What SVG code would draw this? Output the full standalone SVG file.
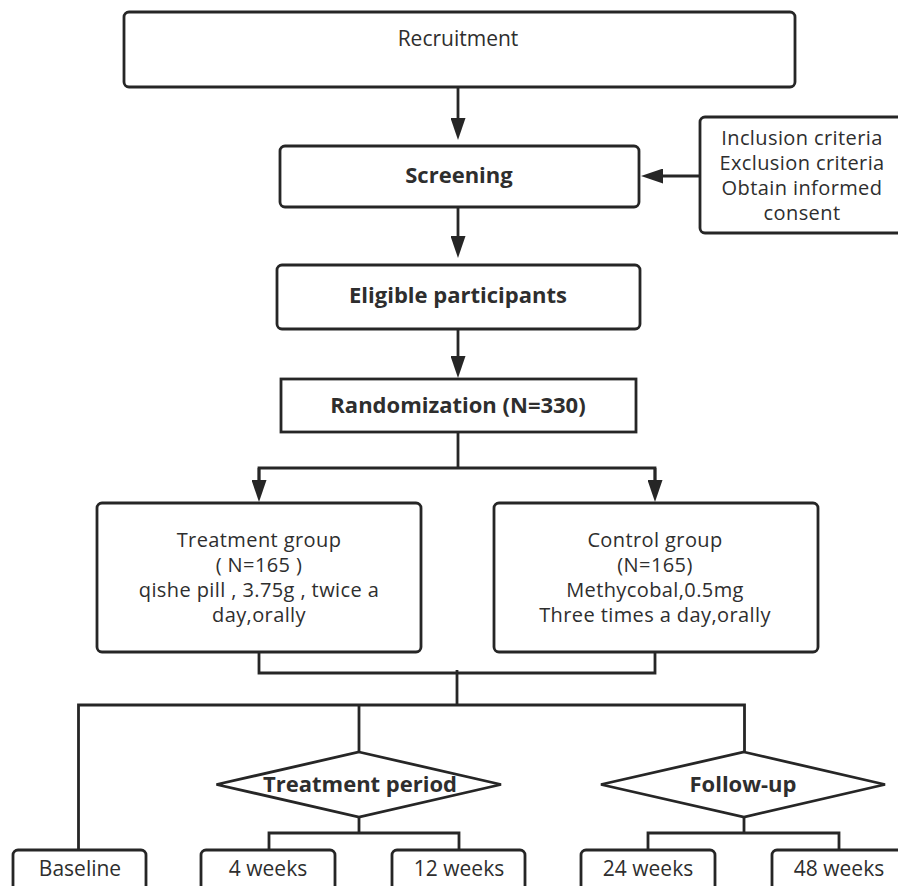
<svg xmlns="http://www.w3.org/2000/svg" width="898" height="886" viewBox="0 0 898 886">
<style>
.box{fill:#fff;stroke:#262626;stroke-width:2.8}
.ln{fill:none;stroke:#262626;stroke-width:2.8}
text{font-family:"Open Sans","Noto Sans","Liberation Sans",sans-serif;font-size:21px;fill:#2e2e2e;text-anchor:middle}
.m{font-size:20px;letter-spacing:0.4px}
.b{font-weight:bold;font-size:22px}
</style>
<defs>
<marker id="arr" viewBox="0 0 22 15" refX="10" refY="7.5" markerWidth="22" markerHeight="15" markerUnits="userSpaceOnUse" orient="auto">
<path d="M0,0 L22,7.5 L0,15 Z" fill="#262626"/>
</marker>
</defs>
<rect width="898" height="886" fill="#fff"/>
<g id="connectors">
<line class="ln" x1="458" y1="87" x2="458" y2="128" marker-end="url(#arr)"/>
<line class="ln" x1="700" y1="176" x2="653" y2="176" marker-end="url(#arr)"/>
<line class="ln" x1="458" y1="207" x2="458" y2="246" marker-end="url(#arr)"/>
<line class="ln" x1="458" y1="329" x2="458" y2="366" marker-end="url(#arr)"/>
<polyline class="ln" points="458,432 458,468"/>
<polyline class="ln" points="259,490 259,468 655,468 655,490"/>
<line class="ln" x1="259" y1="468" x2="259" y2="490" marker-end="url(#arr)"/>
<line class="ln" x1="655" y1="468" x2="655" y2="490" marker-end="url(#arr)"/>
<polyline class="ln" points="259,652 259,673 655,673 655,652"/>
<line class="ln" x1="457" y1="670" x2="457" y2="706"/>
<polyline class="ln" points="78.5,850 78.5,705 744.5,705 744.5,752"/>
<line class="ln" x1="359" y1="705" x2="359" y2="752"/>
<polyline class="ln" points="359,817 359,833"/>
<polyline class="ln" points="269,850 269,833 459,833 459,850"/>
<polyline class="ln" points="744,817 744,833"/>
<polyline class="ln" points="648,850 648,833 839,833 839,850"/>
</g>
<g id="recruitment">
<rect class="box" x="124" y="12" width="671" height="75" rx="5"/>
<text x="458" y="46">Recruitment</text>
</g>
<g id="screening">
<rect class="box" x="280" y="146" width="359" height="61" rx="5"/>
<text class="b" x="459" y="183">Screening</text>
</g>
<g id="criteria">
<rect class="box" x="700" y="117" width="205" height="116" rx="5"/>
<text class="m" x="802" y="145">Inclusion criteria</text>
<text class="m" x="802" y="170">Exclusion criteria</text>
<text class="m" x="802" y="195">Obtain informed</text>
<text class="m" x="802" y="220">consent</text>
</g>
<g id="eligible">
<rect class="box" x="277" y="265" width="363" height="64" rx="5"/>
<text class="b" x="458" y="303">Eligible participants</text>
</g>
<g id="randomization">
<rect class="box" x="281" y="379" width="355" height="53"/>
<text class="b" x="458" y="413">Randomization (N=330)</text>
</g>
<g id="treatment-group">
<rect class="box" x="97" y="503" width="324" height="149" rx="5"/>
<text class="m" x="259" y="547">Treatment group</text>
<text class="m" x="259" y="572">( N=165 )</text>
<text class="m" x="259" y="597">qishe pill , 3.75g , twice a</text>
<text class="m" x="259" y="622">day,orally</text>
</g>
<g id="control-group">
<rect class="box" x="494" y="503" width="324" height="149" rx="5"/>
<text class="m" x="655" y="547">Control group</text>
<text class="m" x="655" y="572">(N=165)</text>
<text class="m" x="655" y="597">Methycobal,0.5mg</text>
<text class="m" x="655" y="622">Three times a day,orally</text>
</g>
<g id="treatment-period">
<polygon class="box" points="359,752 501,784.5 359,817 216.5,784.5"/>
<text class="b" x="360" y="792">Treatment period</text>
</g>
<g id="follow-up">
<polygon class="box" points="744,752 885,784.5 744,817 601,784.5"/>
<text class="b" x="743" y="792">Follow-up</text>
</g>
<g id="baseline">
<rect class="box" x="13" y="850" width="133" height="50" rx="5"/>
<text x="80" y="876">Baseline</text>
</g>
<g id="w4">
<rect class="box" x="201" y="850" width="134" height="50" rx="5"/>
<text x="268" y="876">4 weeks</text>
</g>
<g id="w12">
<rect class="box" x="392" y="850" width="133" height="50" rx="5"/>
<text x="459" y="876">12 weeks</text>
</g>
<g id="w24">
<rect class="box" x="581" y="850" width="134" height="50" rx="5"/>
<text x="648" y="876">24 weeks</text>
</g>
<g id="w48">
<rect class="box" x="772" y="850" width="134" height="50" rx="5"/>
<text x="839" y="876">48 weeks</text>
</g>
</svg>
